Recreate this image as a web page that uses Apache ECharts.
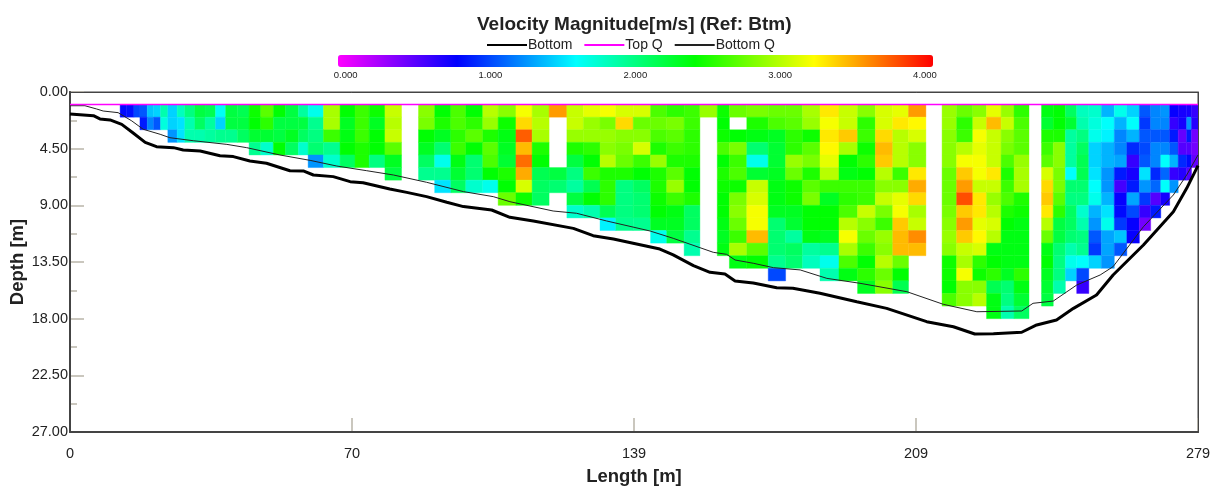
<!DOCTYPE html>
<html><head><meta charset="utf-8"><style>html,body{margin:0;padding:0;background:#fff}#c{width:1222px;height:488px}</style>
<script src="https://cdn.jsdelivr.net/npm/echarts@6/dist/echarts.min.js"></script></head>
<body><div id="c"></div><script>
const xTickLabels = ['0','70','139','209','279'];
const colourStops = ['#ff00ff','#0000ff','#00ffff','#00ff00','#ffff00','#ff0000'];
const firstRowDepth = 1;
const columnEdges = [12.4,14.0,15.8,17.3,19.1,20.7,22.4,24.2,26.5,28.4,30.9,33.4,36.0,38.5,41.4,44.3,47.2,50.3,53.3,56.5,58.9,62.7,66.8,70.5,74.0,77.9,82.0,86.2,90.2,94.2,97.9,102.1,105.9,110.3,114.3,118.5,122.9,127.0,131.1,135.0,139.3,143.6,147.6,151.9,155.8,160.1,163.1,167.4,172.7,177.0,181.2,185.5,190.2,194.8,199.2,203.5,207.4,211.7,215.7,219.3,223.3,226.7,230.3,233.5,237.2,240.3,243.2,246.2,249.0,252.0,255.1,258.3,261.4,264.5,267.3,269.8,272.0,274.1,276.2,277.4,279];
const velocity = [
[0.8],[0.82],[1.0],[1.05,0.85],[1.4,1.2],[1.45,1.05],[1.85,1.7],
[1.45,1.45,1.25],[1.8,1.5,1.5],[2.0,1.85,1.85],[2.2,2.1,1.85],[2.15,1.9,1.9],[1.62,1.45,1.95],[2.2,2.2,1.95],[2.15,2.2,2.1],
[2.45,2.4,2.25,1.95],[2.7,2.55,2.25,1.75],[2.4,2.2,2.2,2.4],[2.2,2.2,2.3,2.1],[1.9,2.2,2.1,1.75],
[1.65,1.95,2.0,2.05,1.25],[2.95,2.95,2.6,1.95,1.75],[2.4,2.3,2.35,2.4,2.1],[2.6,2.6,2.6,2.5,2.5],[2.45,2.3,2.4,2.4,2.0],
[3.05,3.0,3.05,2.7,2.3,2.2],
[],
[2.85,2.8,2.4,2.3,2.1,1.95],
[2.4,2.5,2.3,2.05,1.65,1.95,1.5],
[2.65,2.65,2.55,2.6,2.35,2.25,2.1],
[2.4,2.55,2.7,2.4,2.05,2.05,1.75],
[3.0,2.9,2.5,2.7,2.65,2.4,1.65],
[2.85,2.45,2.35,2.3,2.25,2.5,2.4,2.75],
[3.2,3.35,3.75,3.45,3.7,3.5,3.1,2.45],
[2.95,3.0,2.95,2.5,2.4,2.15,2.1,2.1],
[3.55,null,null,null,null,2.2,2.05],
[3.05,3.05,2.9,2.5,2.2,2.0,1.9,2.2,1.75],
[3.15,2.9,2.9,2.55,2.4,2.6,2.15,2.4,1.85],
[3.2,2.8,2.9,2.85,3.0,2.5,2.55,2.55,2.15,1.55],
[3.1,3.35,2.85,2.8,2.75,2.5,2.0,2.0,2.0,1.95],
[3.1,2.75,2.85,3.1,2.6,2.4,2.1,2.05,2.05,1.95],
[2.65,2.75,2.65,2.5,2.9,2.5,2.5,2.45,2.4,2.3,1.65],
[2.55,2.8,2.7,2.6,2.5,2.7,2.9,2.6,2.35,2.3,2.2],
[2.6,2.6,2.55,2.55,2.5,2.4,2.4,2.5,2.1,2.1,1.95,1.85],
[2.9],
[2.45,2.4,2.45,2.65,2.4,2.5,2.45,2.4,2.4,2.35,2.3,2.35],
[2.75,null,2.4,2.8,2.6,2.65,2.45,2.8,2.85,2.75,2.6,2.95,2.35],
[2.8,2.5,2.35,2.05,1.65,2.25,3.05,3.1,3.2,3.2,3.45,2.7,2.4],
[2.75,2.65,2.3,2.25,2.25,2.3,2.35,2.35,2.3,2.05,2.05,2.05,1.95,1.0],
[2.75,2.7,2.55,2.55,2.9,2.75,2.45,2.45,2.3,2.25,1.9,2.1,2.05],
[2.95,2.9,2.45,2.7,2.8,2.5,2.7,2.8,2.4,2.4,2.35,1.9,1.8],
[3.3,3.2,3.3,3.25,3.15,3.0,2.6,2.3,2.4,2.4,2.3,1.95,1.65,1.85],
[3.05,3.05,3.4,2.95,2.4,2.35,2.6,2.55,2.65,3.0,3.2,2.95,2.65,2.35],
[2.85,2.55,2.6,2.45,2.55,2.4,2.6,2.6,3.05,2.85,2.75,2.6,2.4,2.55,2.3],
[3.1,3.1,3.35,3.45,3.4,3.0,2.85,3.05,2.8,2.6,2.9,2.85,3.0,2.75,2.85],
[3.15,3.3,3.0,3.0,3.0,2.6,2.85,3.15,3.2,3.4,3.45,3.45,2.75,2.4,2.15],
[3.55,3.25,3.1,2.85,2.85,3.3,3.5,3.35,2.95,3.05,3.6,3.45],
[],
[2.9,2.9,2.85,2.85,2.85,2.75,2.75,2.75,2.8,2.85,2.9,2.85,2.45,2.45,2.4,2.65],
[2.75,2.55,2.6,3.0,3.2,3.4,3.55,3.8,3.4,3.55,3.4,3.05,2.95,3.2,2.85,2.85],
[2.85,3.05,3.2,3.15,3.2,3.2,3.05,3.3,3.3,3.15,3.25,3.1,2.55,2.45,2.85,3.0],
[3.15,3.45,3.05,3.05,3.05,3.3,3.05,2.9,3.0,3.1,3.0,2.35,2.4,2.55,2.15,2.35,2.35],
[2.9,3.05,2.85,2.8,2.65,2.5,2.6,2.65,2.5,2.4,2.35,2.35,2.35,2.3,2.05,2.0,1.85],
[2.55,2.65,2.7,2.7,2.9,2.95,2.95,2.5,2.45,2.35,2.35,2.35,2.35,2.55,2.35,2.25,2.1],
[],
[2.35,2.25,2.5,2.6,2.7,3.1,3.35,3.4,3.3,3.0,2.75,2.35,2.4,2.3,2.25,2.2],
[2.4,2.4,2.5,2.85,2.85,2.8,2.8,2.7,2.55,2.2,2.2,2.05,2.0,2.0,1.85],
[2.1,2.25,1.9,1.9,1.9,1.6,2.05,2.0,2.1,2.1,2.05,1.85,1.65,1.45],
[1.8,1.85,2.0,2.1,2.15,2.15,2.05,2.0,1.75,1.85,2.0,1.95,1.6,1.0,0.6],
[1.75,1.7,1.65,1.45,1.45,1.5,1.6,1.65,1.35,1.25,1.05,0.95,1.45],
[1.35,1.6,1.55,1.35,1.35,1.25,1.25,1.35,1.5,1.65,1.3,1.3,1.25],
[1.65,1.35,1.2,1.2,1.3,0.85,0.55,0.75,0.8,0.95,1.4,1.05],
[1.45,1.6,1.35,0.9,0.6,0.7,0.85,1.3,1.0,0.75,0.75],
[1.05,0.95,1.05,1.0,1.05,1.5,1.25,0.95,0.6,0.4],
[1.2,1.2,1.05,1.2,1.2,0.9,1.1,0.5,0.85],
[1.25,1.2,1.05,1.2,1.6,1.1,1.6,0.7],
[0.75,0.6,0.85,1.05,1.35,0.6,1.25],
[0.7,0.7,0.45,0.5,0.9,0.65],
[0.7,1.25,0.85,0.5,0.8,0.5],
[0.6,0.65,0.4,0.4,0.45]
];
const bottomX = [0,5.8,7.4,9.9,12.8,15.7,18.6,21.4,25.6,28.0,32.2,37.1,40.4,44.5,48.6,54.4,57.7,60.2,65.1,69.3,72.5,79.1,83.3,88.2,93.2,97.3,104.3,108.8,114.6,124.5,129.4,134.4,145.9,149.2,154.2,158.3,162,164.5,169,174.8,178.8,185.5,194.6,202,211.9,218.5,223.8,228.4,235.4,239.1,244,248.2,253.9,258,265.5,272.9,276.2,279];
const bottomDepth = [1.75,1.88,2.14,2.22,2.57,3.28,4.0,4.34,4.42,4.6,4.69,5.06,5.13,5.48,5.66,6.25,6.27,6.59,6.72,7.12,7.2,7.7,7.97,8.31,8.76,9.1,9.37,9.95,10.24,10.83,11.41,11.67,12.47,12.94,13.79,14.32,14.45,15.0,15.17,15.54,15.59,15.98,16.65,17.18,18.24,18.64,19.22,19.19,19.08,18.5,18.1,17.18,16.12,14.53,12.15,9.5,7.65,5.85];
const bottomQX = [0,3.7,6.6,8.2,11.9,15.3,18.1,22.3,24.7,30.5,38.8,43.7,51.9,59.4,66,73.4,80,88.2,97.3,104.7,108.8,119.5,125.3,132.7,143.5,149.2,155.8,159.1,162.4,164.5,169,174,180.6,187.2,195.4,207,216,224.3,235.4,238.2,243.2,249,254.8,258,265.5,272.9,276.2,279];
const bottomQDepth = [1.09,1.09,1.35,1.51,1.64,2.3,2.96,3.36,3.63,3.87,4.16,4.42,5.0,5.43,5.88,6.25,6.59,7.17,7.91,8.31,8.71,9.45,9.63,10.24,11.04,11.62,12.36,12.73,12.89,13.34,13.6,13.95,14.13,14.8,15.19,15.86,16.86,17.45,17.39,16.78,16.6,15.33,14.53,13.87,10.7,8.18,6.59,5.0];
const topQX = [0,279];
const topQDepth = [1,1];

const cells = [];
velocity.forEach((col, c) => col.forEach((v, r) => {
  if (v !== null) cells.push([columnEdges[c], columnEdges[c + 1], firstRowDepth + r, v]);
}));
const zip = (a, b) => a.map((x, i) => [x, b[i]]);
const font = 'Liberation Sans';
const tickCol = '#b9b5a9';
const frame = (extra, width) => Object.assign({type:'value', gridIndex:0, z:3, min:0, max:1, splitLine:{show:false}, axisTick:{show:false}, axisLabel:{show:false},
  axisLine:{show:true, onZero:false, lineStyle:{color:'#444', width}}}, extra);

const chart = echarts.init(document.getElementById('c'), null, {renderer:'canvas'});
chart.setOption({
  animation:false, backgroundColor:'#fff',
  title:{text:'Velocity Magnitude[m/s] (Ref: Btm)', left:477, top:15, padding:0, textStyle:{fontFamily:font,fontWeight:'bold',fontSize:19,color:'#222'}},
  legend:{top:38, left:487, itemWidth:40, itemHeight:2, itemGap:12, padding:0, icon:'rect',
    data:['Bottom','Top Q','Bottom Q'],
    textStyle:{fontFamily:font,fontSize:14,color:'#222',padding:[0,0,0,-4]}},
  visualMap:{type:'continuous', min:-0.05, max:4.05, dimension:3, seriesIndex:0, orient:'horizontal', left:338, top:55,
    itemWidth:12, itemHeight:595, calculable:false, text:['',''], padding:0, hoverLink:false, realtime:false,
    inRange:{color:colourStops}},
  grid:[{left:70, right:24, top:92, bottom:56, outerBoundsMode:'none', show:true, backgroundColor:'#fff', borderColor:'#444', borderWidth:1},
        {left:345.6, width:579.4, top:55, height:12, outerBoundsMode:'none', show:false}],
  xAxis:[{type:'value', min:0, max:279, interval:69.75, name:'Length [m]', nameLocation:'middle', nameGap:35, nameMoveOverlap:false,
      nameTextStyle:{fontFamily:font,fontWeight:'bold',fontSize:18.5,color:'#222'},
      axisLine:{onZero:false,lineStyle:{color:'#444',width:2}}, axisTick:{inside:true,length:14,lineStyle:{color:tickCol,width:1.5}},
      minorTick:{show:false}, splitLine:{show:false},
      axisLabel:{fontFamily:font,fontSize:14.5,color:'#222',margin:14,hideOverlap:false,showMinLabel:true,showMaxLabel:true,
        formatter:(v)=>xTickLabels[Math.round(v/69.75)]}},
    {gridIndex:1,type:'value',min:0,max:4,interval:1,axisLine:{show:false},axisTick:{inside:true,length:2,lineStyle:{color:'#999'}},splitLine:{show:false},
      axisLabel:{fontFamily:font,fontSize:9.5,color:'#222',margin:3,formatter:(v)=>v.toFixed(3)}},
    frame({position:'bottom'},2), frame({position:'top'},1)],
  yAxis:[{type:'value', min:0, max:27, interval:4.5, inverse:true, name:'Depth [m]', nameLocation:'middle', nameGap:43, nameRotate:90, nameMoveOverlap:false,
      nameTextStyle:{fontFamily:font,fontWeight:'bold',fontSize:18.5,color:'#222'},
      axisLine:{onZero:false,lineStyle:{color:'#444',width:2}}, axisTick:{inside:true,length:14,lineStyle:{color:tickCol,width:1.5}},
      minorTick:{show:true,splitNumber:2,length:7,lineStyle:{color:tickCol,width:1.5}}, splitLine:{show:false},
      axisLabel:{fontFamily:font,fontSize:14.5,color:'#222',margin:2,formatter:(v)=>v.toFixed(2)}},
    {gridIndex:1,type:'value',min:0,max:1,show:false},
    frame({position:'left'},2), frame({position:'right'},1)],
  series:[
    {type:'custom', name:'Velocity', data:cells, clip:true, encode:{x:[0,1],y:2}, silent:true,
      renderItem:(p, api)=>{
        const a = api.coord([api.value(0), api.value(2)]);
        const b = api.coord([api.value(1), api.value(2)+1]);
        const fill = api.visual('color');
        return {type:'rect', shape:{x:a[0],y:a[1],width:b[0]-a[0],height:b[1]-a[1]}, style:{fill,stroke:fill,lineWidth:0.4}};
      }},
    {type:'line', name:'Bottom', data:zip(bottomX,bottomDepth), symbol:'none', lineStyle:{color:'#000',width:3}, itemStyle:{color:'#000'}, z:5},
    {type:'line', name:'Top Q', data:zip(topQX,topQDepth), symbol:'none', lineStyle:{color:'#ff00ff',width:1.5}, itemStyle:{color:'#ff00ff'}, z:6},
    {type:'line', name:'Bottom Q', data:zip(bottomQX,bottomQDepth), symbol:'none', lineStyle:{color:'#222',width:1}, itemStyle:{color:'#222'}, z:5}
  ]
});
</script></body></html>
